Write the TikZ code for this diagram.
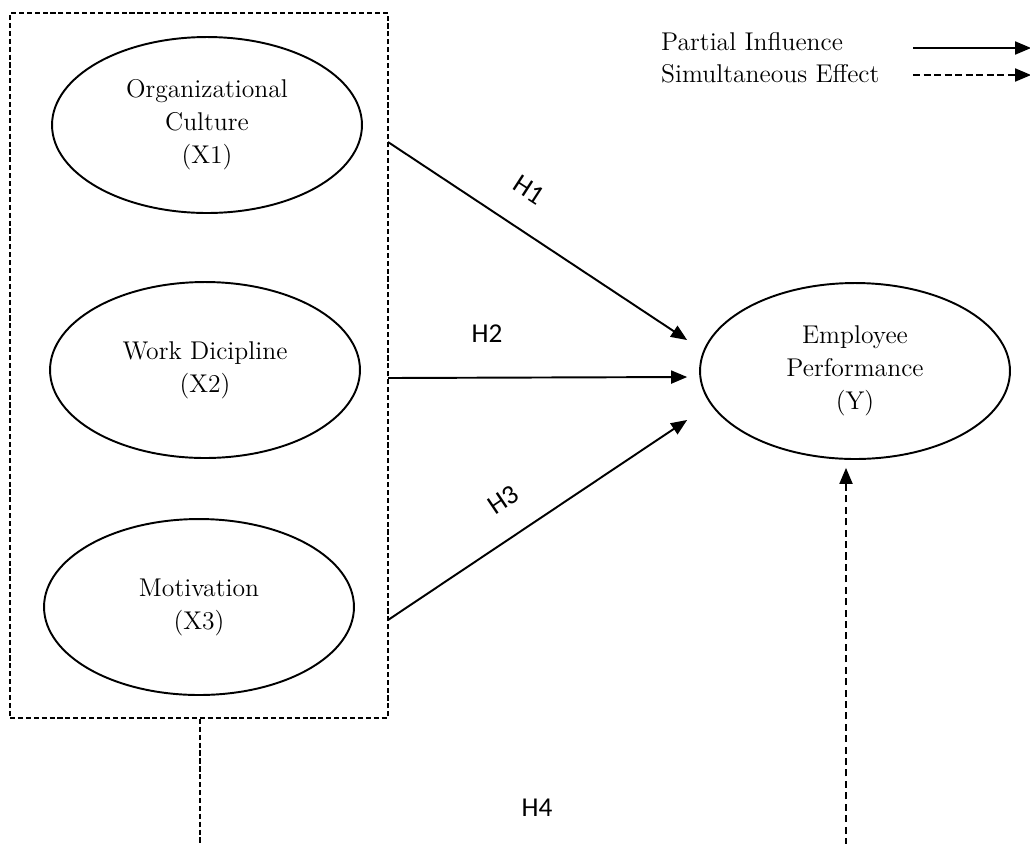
\documentclass[tikz,border=0pt]{standalone}
\usepackage{fontspec}
\newfontfamily\hfont{Carlito}
\usetikzlibrary{shapes.geometric, arrows}
\tikzstyle{arrow} = [line width=1.1pt,->,>=triangle 45]
\tikzstyle{latent} = [ellipse, draw, line width=1.1pt, minimum width=6.2cm, minimum height=3.52cm, inner sep=0pt, align=center, font=\fontsize{14.6}{18.8}\selectfont]
\tikzstyle{hlabel} = [font=\hfont\fontsize{15.5}{18}\selectfont]
\tikzstyle{legend} = [anchor=base west, font=\fontsize{14.6}{18.8}\selectfont]

\begin{document}
\begin{tikzpicture}[x=0.02cm, y=-0.02cm]
        \useasboundingbox (0,0) rectangle (1030,843);
        %variabel X
        \node[latent] (x1) at (207,125) {Organizational\\Culture\\(X1)};
        \node[latent] (x2) at (205,370) {Work Dicipline\\(X2)};
        \node[latent] (x3) at (199,607) {Motivation\\(X3)};
        \node[draw, line width=1pt, dash pattern=on 2.9pt off 1.6pt,
              minimum width=7.56cm, minimum height=14.1cm] (grp) at (199,365.5) {};
        %variabel Y
        \node[latent] (y) at (855,371) {Employee\\Performance\\(Y)};
        %legend
        \node[legend] (lp) at (655,50) {Partial Influence};
        \node[legend] (ls) at (655,82) {Simultaneous Effect};
        \coordinate (lp1) at (913,48);
        \coordinate (lp2) at (1031,48);
        \coordinate (ls1) at (913,75);
        \coordinate (ls2) at (1031,75);
        \draw[arrow] (lp1) -- (lp2);
        \draw[arrow, dash pattern=on 4pt off 2pt] (ls1) -- (ls2);
        %H1 - H3
        \coordinate (h1s) at (388,142);
        \coordinate (h2s) at (388,378);
        \coordinate (h3s) at (388,620);
        \draw[arrow] (h1s) -- ([shift={(-12,-31)}]y.west);
        \draw[arrow] (h2s) -- ([shift={(-12,6)}]y.west);
        \draw[arrow] (h3s) -- ([shift={(-12,49)}]y.west);
        \node[hlabel, rotate=-33, inner sep=1pt] (h1) at (529,190) {H1};
        \node[hlabel] (h2) at (487,334) {H2};
        \node[hlabel, rotate=34, inner sep=1pt] (h3) at (503,500) {H3};
        %H4
        \coordinate (h4a) at (200,845);
        \coordinate (h4b) at (846,845);
        \draw[line width=0.6pt, dash pattern=on 3pt off 1.5pt] (grp.south -| h4a) -- (h4a);
        \draw[arrow, dash pattern=on 4pt off 2.5pt, shorten >=0.16cm] (h4b) -- (h4b |- y.south);
        \node[hlabel] (h4) at (537,808) {H4};
\end{tikzpicture}
\end{document}
